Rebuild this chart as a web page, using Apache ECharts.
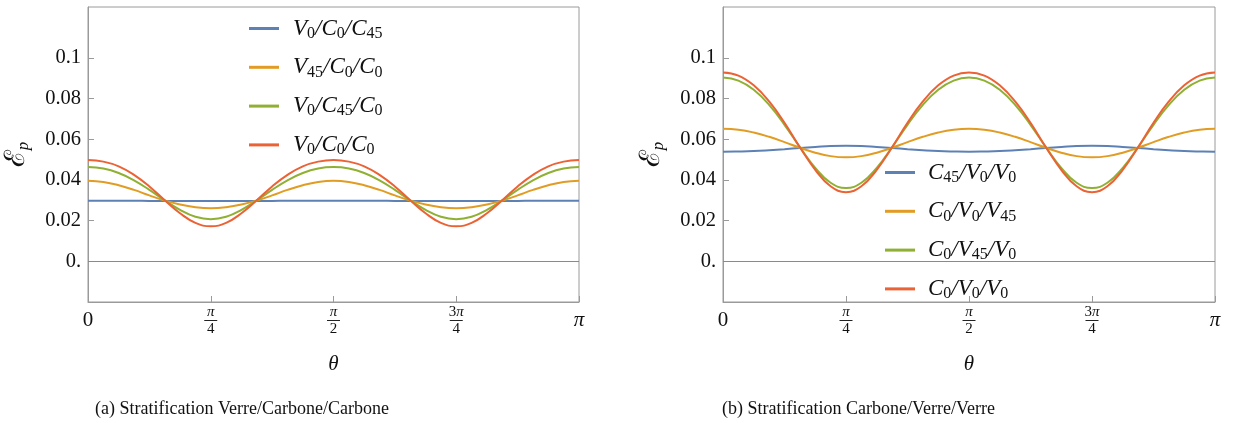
<!DOCTYPE html>
<html><head><meta charset="utf-8">
<script src="https://cdn.jsdelivr.net/npm/echarts@6/dist/echarts.min.js"></script>
<style>html,body{margin:0;padding:0;background:#fff}#c{width:1237px;height:423px}</style>
</head><body><div id="c"></div>
<script>
// theta in units of pi
const theta = [0,0.03125,0.0625,0.09375,0.125,0.15625,0.1875,0.21875,0.25,0.28125,0.3125,0.34375,0.375,0.40625,0.4375,0.46875,0.5,0.53125,0.5625,0.59375,0.625,0.65625,0.6875,0.71875,0.75,0.78125,0.8125,0.84375,0.875,0.90625,0.9375,0.96875,1];
const xTickValues = [0, 0.25, 0.5, 0.75, 1];
const yTickValues = [0, 0.02, 0.04, 0.06, 0.08, 0.1];
const leftNames = ['V0/C0/C45', 'V45/C0/C0', 'V0/C45/C0', 'V0/C0/C0'];
const rightNames = ['C45/V0/V0', 'C0/V0/V45', 'C0/V45/V0', 'C0/V0/V0'];
const captions = ['(a) Stratification Verre/Carbone/Carbone', '(b) Stratification Carbone/Verre/Verre'];

const leftBlue = [0.0298,0.0298,0.0298,0.0298,0.0297,0.0297,0.0297,0.0297,0.0297,0.0297,0.0297,0.0297,0.0297,0.0298,0.0298,0.0298,0.0298,0.0298,0.0298,0.0298,0.0297,0.0297,0.0297,0.0297,0.0297,0.0297,0.0297,0.0297,0.0297,0.0298,0.0298,0.0298,0.0298];
const leftOrange = [0.0396,0.0390,0.0374,0.0351,0.0324,0.0299,0.0279,0.0266,0.0261,0.0266,0.0279,0.0299,0.0324,0.0351,0.0374,0.0390,0.0396,0.0390,0.0374,0.0351,0.0324,0.0299,0.0279,0.0266,0.0261,0.0266,0.0279,0.0299,0.0324,0.0351,0.0374,0.0390,0.0396];
const leftGreen = [0.0463,0.0456,0.0434,0.0398,0.0351,0.0300,0.0253,0.0219,0.0207,0.0219,0.0253,0.0300,0.0351,0.0398,0.0434,0.0456,0.0463,0.0456,0.0434,0.0398,0.0351,0.0300,0.0253,0.0219,0.0207,0.0219,0.0253,0.0300,0.0351,0.0398,0.0434,0.0456,0.0463];
const leftRed = [0.0498,0.0490,0.0467,0.0425,0.0368,0.0300,0.0236,0.0189,0.0172,0.0189,0.0236,0.0300,0.0368,0.0425,0.0467,0.0490,0.0498,0.0490,0.0467,0.0425,0.0368,0.0300,0.0236,0.0189,0.0172,0.0189,0.0236,0.0300,0.0368,0.0425,0.0467,0.0490,0.0498];

const rightBlue = [0.0539,0.0540,0.0542,0.0546,0.0551,0.0557,0.0562,0.0567,0.0568,0.0567,0.0562,0.0557,0.0551,0.0546,0.0542,0.0540,0.0539,0.0540,0.0542,0.0546,0.0551,0.0557,0.0562,0.0567,0.0568,0.0567,0.0562,0.0557,0.0551,0.0546,0.0542,0.0540,0.0539];
const rightOrange = [0.0652,0.0647,0.0633,0.0612,0.0586,0.0558,0.0534,0.0517,0.0511,0.0517,0.0534,0.0558,0.0586,0.0612,0.0633,0.0647,0.0652,0.0647,0.0633,0.0612,0.0586,0.0558,0.0534,0.0517,0.0511,0.0517,0.0534,0.0558,0.0586,0.0612,0.0633,0.0647,0.0652];
const rightGreen = [0.0903,0.0888,0.0843,0.0769,0.0671,0.0561,0.0459,0.0386,0.0360,0.0386,0.0459,0.0561,0.0671,0.0769,0.0843,0.0888,0.0903,0.0888,0.0843,0.0769,0.0671,0.0561,0.0459,0.0386,0.0360,0.0386,0.0459,0.0561,0.0671,0.0769,0.0843,0.0888,0.0903];
const rightRed = [0.0928,0.0913,0.0865,0.0786,0.0681,0.0561,0.0450,0.0369,0.0340,0.0369,0.0450,0.0561,0.0681,0.0786,0.0865,0.0913,0.0928,0.0913,0.0865,0.0786,0.0681,0.0561,0.0450,0.0369,0.0340,0.0369,0.0450,0.0561,0.0681,0.0786,0.0865,0.0913,0.0928];

const colors = ['#5E81B5', '#E19C24', '#8FB032', '#EB6235'];
const SERIF = '"Liberation Serif", "DejaVu Serif", serif';
const frameColor = '#9a9a9a';

function pairs(arr) { return theta.map((t, i) => [t, arr[i]]); }

function xLabel(v) {
  if (v === 0) return '{big|0}';
  if (v === 1) return '{bigi|π}';
  if (v === 0.25) return '{n|π}\n{bar| }\n{d|4}';
  if (v === 0.5) return '{n|π}\n{bar| }\n{d|2}';
  if (v === 0.75) return '{n3|3}{n|π}\n{bar| }\n{d|4}';
  return '';
}
function yLabel(v) {
  if (Math.abs(v) < 1e-9) return '0.';
  if (Math.abs(v - 0.1) < 1e-9) return '0.1';
  return v.toFixed(2);
}
const xRich = {
  big: { fontSize: 21, fontFamily: SERIF, lineHeight: 30, color: '#111' },
  bigi: { fontSize: 21, fontFamily: SERIF, fontStyle: 'italic', lineHeight: 30, color: '#111' },
  n: { fontSize: 15, fontFamily: SERIF, fontStyle: 'italic', lineHeight: 14, color: '#111' },
  n3: { fontSize: 15, fontFamily: SERIF, lineHeight: 14, color: '#111' },
  bar: { width: 13, height: 1, fontSize: 1, lineHeight: 3, backgroundColor: '#222' },
  d: { fontSize: 15, fontFamily: SERIF, lineHeight: 14, color: '#111' }
};
function legendFmt(name) {
  return name.replace(/\//g, '{i|/}').replace(/([VC])(\d+)/g, '{i|$1}{s|$2}');
}
const legendRich = {
  i: { fontSize: 23, fontFamily: SERIF, fontStyle: 'italic', lineHeight: 26, color: '#111' },
  s: { fontSize: 16, fontFamily: SERIF, lineHeight: 12, verticalAlign: 'bottom', color: '#111' }
};

function xAxisFor(gi) {
  return {
    type: 'value', gridIndex: gi, min: 0, max: 1,
    name: 'θ', nameLocation: 'middle', nameGap: 52,
    nameTextStyle: { fontFamily: SERIF, fontStyle: 'italic', fontSize: 21, color: '#111' },
    axisLine: { show: true, onZero: false, lineStyle: { color: frameColor, width: 1 } },
    axisTick: { show: true, inside: true, length: 6, customValues: xTickValues, lineStyle: { color: frameColor } },
    axisLabel: { show: true, customValues: xTickValues, margin: 3, formatter: xLabel, rich: xRich },
    splitLine: { show: false }
  };
}
function yAxisFor(gi) {
  return {
    type: 'value', gridIndex: gi, min: -0.02, max: 0.125, interval: 0.02,
    name: '{e|ℰ}{p|p}', nameLocation: 'middle', nameGap: 56, nameRotate: 90,
    nameTextStyle: { rich: {
      e: { fontSize: 28, fontFamily: '"DejaVu Serif", serif', color: '#111', lineHeight: 30 },
      p: { fontSize: 17, fontFamily: SERIF, fontStyle: 'italic', color: '#111', lineHeight: 12, verticalAlign: 'bottom' }
    } },
    axisLine: { show: true, onZero: false, lineStyle: { color: frameColor, width: 1 } },
    axisTick: { show: true, inside: true, length: 6, customValues: yTickValues, lineStyle: { color: frameColor } },
    axisLabel: { show: true, customValues: yTickValues, margin: 7, formatter: yLabel, fontFamily: SERIF, fontSize: 20.5, color: '#111' },
    splitLine: { show: false }
  };
}
function mkSeries(name, data, color, gi, withZero) {
  const s = {
    name: name, type: 'line', xAxisIndex: gi, yAxisIndex: gi,
    data: pairs(data), smooth: 0.45, showSymbol: false, symbol: 'none',
    lineStyle: { color: color, width: 2 }, itemStyle: { color: color },
    animation: false, silent: true, z: 3
  };
  if (withZero) {
    s.markLine = { silent: true, symbol: 'none', label: { show: false },
      lineStyle: { color: '#8a8a8a', width: 1, type: 'solid' },
      data: [{ yAxis: 0 }], animation: false };
  }
  return s;
}

const chart = echarts.init(document.getElementById('c'), null, { renderer: 'canvas' });
const leftData = [leftBlue, leftOrange, leftGreen, leftRed];
const rightData = [rightBlue, rightOrange, rightGreen, rightRed];
const series = [];
leftNames.forEach((n, i) => series.push(mkSeries(n, leftData[i], colors[i], 0, i === 0)));
rightNames.forEach((n, i) => series.push(mkSeries(n, rightData[i], colors[i], 1, i === 0)));

chart.setOption({
  animation: false,
  backgroundColor: '#fff',
  grid: [
    { left: 88, top: 7, width: 491, height: 295, show: true, borderColor: frameColor, borderWidth: 1, backgroundColor: 'transparent', containLabel: false, outerBoundsMode: 'none' },
    { left: 723, top: 7, width: 492, height: 295, show: true, borderColor: frameColor, borderWidth: 1, backgroundColor: 'transparent', containLabel: false, outerBoundsMode: 'none' }
  ],
  xAxis: [xAxisFor(0), xAxisFor(1)],
  yAxis: [yAxisFor(0), yAxisFor(1)],
  legend: [
    { data: leftNames, orient: 'vertical', left: 249, top: 17, padding: 0, itemWidth: 30, itemHeight: 3, itemGap: 14.3, icon: 'rect',
      formatter: legendFmt, textStyle: { rich: legendRich, padding: [0, 0, 0, 9] }, selectedMode: false },
    { data: rightNames, orient: 'vertical', left: 885, top: 161, padding: 0, itemWidth: 30, itemHeight: 3, itemGap: 14.3, icon: 'rect',
      formatter: legendFmt, textStyle: { rich: legendRich, padding: [0, 0, 0, 8] }, selectedMode: false }
  ],
  graphic: [
    { type: 'text', left: 95, top: 400, style: { text: captions[0], font: '18px "Liberation Serif", serif', fill: '#111' } },
    { type: 'text', left: 722, top: 400, style: { text: captions[1], font: '18px "Liberation Serif", serif', fill: '#111' } }
  ],
  series: series
});
</script>
</body></html>
